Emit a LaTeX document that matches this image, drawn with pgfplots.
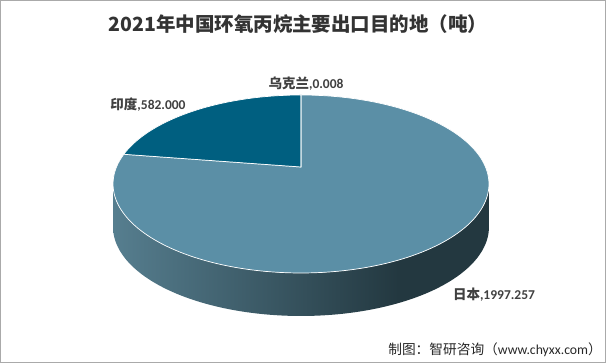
\documentclass[border=0pt]{standalone}
\usepackage{pgfplots}
\pgfplotsset{compat=1.18}
\usepackage{pgfplotstable}
\usepackage{fontspec}
\setmainfont{Carlito}
\newfontfamily\cjk{Noto Sans CJK SC}
\definecolor{japan}{HTML}{5B8FA6}
\definecolor{india}{HTML}{005F80}
\definecolor{sideL}{HTML}{567E8F}
\definecolor{sideD}{HTML}{233840}
\definecolor{txt}{HTML}{404040}
\definecolor{frame}{HTML}{AAAAAA}
\pgfdeclarehorizontalshading{sideshade}{100bp}{color(0bp)=(sideL); color(25bp)=(sideL); color(63bp)=(sideD); color(100bp)=(sideD)}

\pgfplotstableread{
name value
Japan 1997.257
India 582.000
Ukraine 0.008
}\piedata

\pgfplotstablegetelem{0}{value}\of\piedata \let\vJ\pgfplotsretval
\pgfplotstablegetelem{1}{value}\of\piedata \let\vI\pgfplotsretval
\pgfplotstablegetelem{2}{value}\of\piedata \let\vU\pgfplotsretval
\pgfmathsetmacro{\tot}{\vJ+\vI+\vU}
\pgfmathsetmacro{\fJ}{\vJ/\tot}
\pgfmathsetmacro{\fI}{\vI/\tot}
\pgfmathsetmacro{\fU}{\vU/\tot}
\pgfmathsetmacro{\aJ}{90-360*\fJ}
\pgfmathsetmacro{\aI}{\aJ-360*\fI}
\pgfmathsetmacro{\aU}{\aI-360*\fU-0.05}
\pgfmathsetmacro{\thS}{180+asin(0.191)}
\pgfmathsetmacro{\thE}{360-asin(0.191)}

\begin{document}
\begin{tikzpicture}
\begin{axis}[
  scale only axis, width=606pt, height=363pt,
  xmin=0, xmax=606, ymin=0, ymax=363,
  hide axis, clip=false,
  declare function={
    px(\a)=301+184.5*cos(\a)/(1+0.191*sin(\a));
    py(\a)=196+85.75*sin(\a)/(1+0.191*sin(\a));
  },
]
% side (front wall)
\addplot[draw=none, shade, shading=sideshade, domain=0:2, samples=201, variable=\t]
  ({px(\t<=1.0001 ? \thS+\t*(\thE-\thS) : \thE-(\t-1)*(\thE-\thS))},
   {py(\t<=1.0001 ? \thS+\t*(\thE-\thS) : \thE-(\t-1)*(\thE-\thS)) - (\t>1.0001)*43}) -- cycle;
% Japan
\addplot[fill=japan, draw=white, line width=0.7pt, domain=\aJ:90, samples=240, variable=\t]
  ({px(\t)},{py(\t)}) -- (axis cs:301,196) -- cycle;
% India
\addplot[fill=india, draw=white, line width=0.7pt, domain=\aI:\aJ, samples=80, variable=\t]
  ({px(\t)},{py(\t)}) -- (axis cs:301,196) -- cycle;
% Ukraine
\addplot[fill=japan, draw=white, line width=0.7pt, domain=\aU:\aI, samples=2, variable=\t]
  ({px(\t)},{py(\t)}) -- (axis cs:301,196) -- cycle;

% labels
\node[text=txt, font=\fontsize{13.5}{14}\selectfont\bfseries] at (axis cs:306,279) {{\cjk 乌克兰},0.008};
\node[text=txt, font=\fontsize{13.5}{14}\selectfont\bfseries] at (axis cs:148,258) {{\cjk 印度},582.000};
\node[text=txt, font=\fontsize{13.5}{14}\selectfont\bfseries] at (axis cs:494,68) {{\cjk 日本},1997.257};
% title
\node[text=black!80, font=\fontsize{19.5}{20}\selectfont\cjk\bfseries] at (axis cs:298,339) {2021年中国环氧丙烷主要出口目的地（吨）};
% source
\node[anchor=east, inner sep=0pt, text=black!85, font=\fontsize{13.7}{14}\selectfont] at (axis cs:602,13) {{\cjk 制图：智研咨询（}www.chyxx.com{\cjk ）}};
% frame
\draw[frame, line width=1pt] (axis cs:0.5,0.5) rectangle (axis cs:605.5,362.5);
\end{axis}
\end{tikzpicture}
\end{document}
